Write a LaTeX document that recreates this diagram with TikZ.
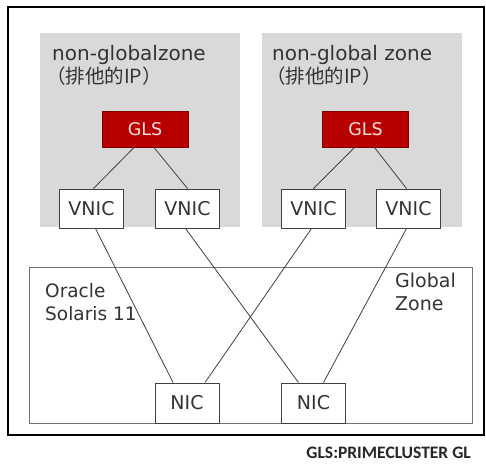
\documentclass[tikz,border=0pt]{standalone}
\usepackage{fontspec}
\setmainfont{DejaVu Sans}
\newfontfamily\cjk{Noto Sans CJK JP}
\newfontfamily\notefont{Carlito}
\begin{document}
\begin{tikzpicture}[x=1pt,y=-1pt,
    box/.style={draw=black!75,fill=white,line width=1pt,minimum width=64pt,minimum height=39pt,inner sep=0pt,font=\fontsize{19}{22}\selectfont,text=black!80},
    glsbox/.style={draw=black!50!red,fill=red!72!black,line width=1pt,minimum width=86pt,minimum height=36pt,inner sep=0pt,font=\fontsize{17.5}{20}\selectfont,text=red!12},
    wire/.style={draw=black!75,line width=0.8pt},
    lbl/.style={anchor=base west,inner sep=0pt,text=black!80}]
        \useasboundingbox (0,0) rectangle (486,464);
        \fill[white] (0,0) rectangle (486,464);
        \draw[line width=1.5pt] (8,7) rectangle (484,435);
        \fill[black!15] (40,33) rectangle (240,227);
        \fill[black!15] (262,33) rectangle (462,227);
        \draw[black!55,line width=1pt] (29,267) rectangle (472,423);
        \node[lbl,font=\fontsize{20}{24}\selectfont] (zone1) at (52,60) {non-globalzone};
        \node[lbl,font=\cjk\fontsize{19.5}{22}\selectfont] (ip1) at (46,83) {（排他的IP）};
        \node[lbl,font=\fontsize{20}{24}\selectfont] (zone2) at (272,60) {non-global zone};
        \node[lbl,font=\cjk\fontsize{19.5}{22}\selectfont] (ip2) at (266,83) {（排他的IP）};
        \node[glsbox] (gls1) at (145,129) {GLS};
        \node[glsbox] (gls2) at (365.5,129) {GLS};
        \node[box] (vnic1) at (91.5,208.5) {VNIC};
        \node[box] (vnic2) at (187.5,208.5) {VNIC};
        \node[box] (vnic3) at (313.5,208.5) {VNIC};
        \node[box] (vnic4) at (408.5,208.5) {VNIC};
        \node[box,minimum height=40pt] (nic1) at (187,403) {NIC};
        \node[box,minimum height=40pt] (nic2) at (313.5,403) {NIC};
        \node[lbl,font=\fontsize{18.5}{22}\selectfont] (os1) at (45,297) {Oracle};
        \node[lbl,font=\fontsize{18.5}{22}\selectfont] (os2) at (45,320) {Solaris 11};
        \node[lbl,font=\fontsize{19}{22}\selectfont] (gz1) at (395,287) {Global};
        \node[lbl,font=\fontsize{19}{22}\selectfont] (gz2) at (395,310) {Zone};
        \node[anchor=base east,inner sep=0pt,text=black!85,font=\notefont\bfseries\fontsize{17.5}{20}\selectfont] (note) at (471,458) {GLS:PRIMECLUSTER GL};
        \draw[wire] ([xshift=-11pt]gls1.south) -- ([xshift=2pt]vnic1.north);
        \draw[wire] ([xshift=9pt]gls1.south) -- (vnic2.north);
        \draw[wire] ([xshift=-11pt]gls2.south) -- (vnic3.north);
        \draw[wire] ([xshift=9pt]gls2.south) -- ([xshift=-2pt]vnic4.north);
        \draw[wire] ([xshift=4pt]vnic1.south) -- ([xshift=-14pt]nic1.north);
        \draw[wire] ([xshift=-2pt]vnic3.south) -- ([xshift=18pt]nic1.north);
        \draw[wire] ([xshift=-2pt]vnic2.south) -- ([xshift=-15pt]nic2.north);
        \draw[wire] ([xshift=-2pt]vnic4.south) -- ([xshift=10pt]nic2.north);
\end{tikzpicture}
\end{document}
